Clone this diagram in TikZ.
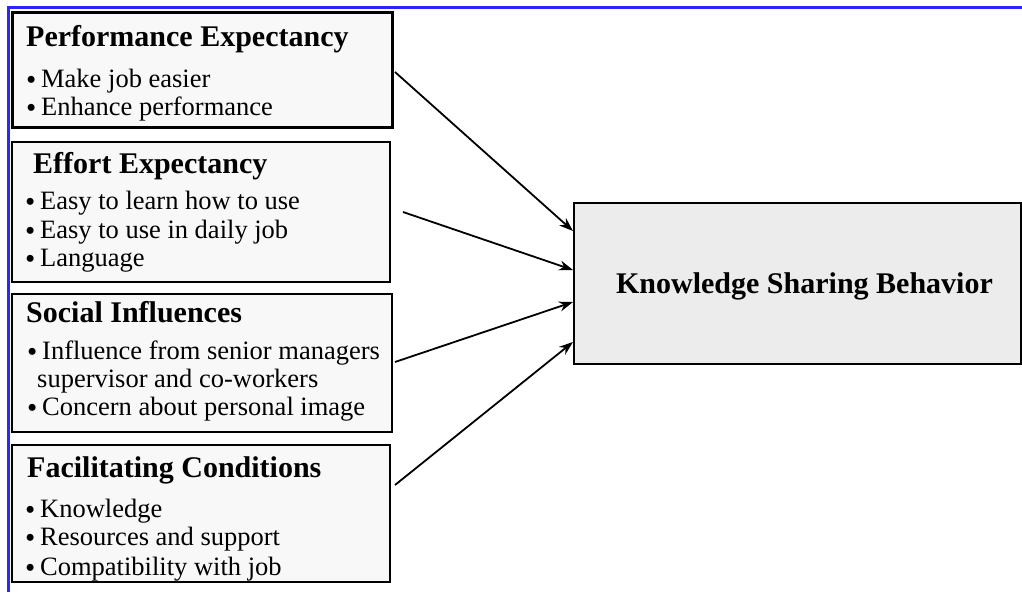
\documentclass[tikz,border=0pt]{standalone}
\usepackage{fontspec}
\setmainfont{Liberation Serif}
\usetikzlibrary{calc,arrows.meta}
\definecolor{frameblue}{RGB}{40,40,250}
\definecolor{boxfill}{RGB}{248,248,248}
\definecolor{ksbfill}{RGB}{236,236,236}
\newcommand\dotmark{\raisebox{-0.1em}{\scalebox{1.1}{•}}\hspace{0.18em}}
\tikzset{
  factor/.style={draw=black, fill=boxfill, inner sep=0pt, outer sep=0pt, anchor=north west},
  heading/.style={anchor=base west, inner sep=0pt, font=\fontsize{30}{36}\selectfont\bfseries},
  item/.style={anchor=base west, inner sep=0pt, font=\fontsize{26.5}{30}\selectfont},
  link/.style={-{Stealth[length=14pt,width=10pt]}, line width=1.8pt},
}
\begin{document}
\begin{tikzpicture}[x=1pt,y=-1pt]
\useasboundingbox (0,0) rectangle (1022,592);
% page frame
\draw[frameblue, line width=2.5pt] (8.5,592) -- (8.5,7.5) -- (1022,7.5);

% performance expectancy
\node[factor, line width=3pt, minimum width=380pt, minimum height=115pt] (pe) at (12,12) {};
\node[heading] (peh) at (26,46) {Performance Expectancy};
\node[item] (pe1) at (26,87) {\dotmark Make job easier};
\node[item] (pe2) at (26,115) {\dotmark Enhance performance};

% effort expectancy
\node[factor, line width=2.5pt, minimum width=378pt, minimum height=140pt] (ee) at (12,142) {};
\node[heading] (eeh) at (33,173) {Effort Expectancy};
\node[item] (ee1) at (25,209) {\dotmark Easy to learn how to use};
\node[item] (ee2) at (25,238) {\dotmark Easy to use in daily job};
\node[item] (ee3) at (25,266) {\dotmark Language};

% social influences
\node[factor, line width=2.5pt, minimum width=380pt, minimum height=138pt] (si) at (12,294) {};
\node[heading] (sih) at (26,322) {Social Influences};
\node[item] (si1) at (27,359) {\dotmark Influence from senior managers};
\node[item] (si2) at (37,387) {supervisor and co-workers};
\node[item] (si3) at (27,415) {\dotmark Concern about personal image};

% facilitating conditions
\node[factor, line width=1.6pt, minimum width=378pt, minimum height=137pt] (fc) at (12,445) {};
\node[heading] (fch) at (27,477) {Facilitating Conditions};
\node[item] (fc1) at (25,517) {\dotmark Knowledge};
\node[item] (fc2) at (25,545) {\dotmark Resources and support};
\node[item] (fc3) at (25,575) {\dotmark Compatibility with job};

% outcome
\node[draw=black, fill=ksbfill, line width=2pt, minimum width=447pt, minimum height=161pt,
      anchor=north west, inner sep=0pt, outer sep=0pt] (ksb) at (574,203) {};
\node[heading, anchor=base] (ksbt) at (804.5,293) {Knowledge Sharing Behavior};

% paths into the outcome
\draw[link] ($(pe.east)+(3,2.5)$) -- ($(ksb.west)+(-1,-52.5)$);
\draw[link] ($(ee.east)+(13,0)$) -- ($(ksb.west)+(-1,-13.5)$);
\draw[link] ($(si.east)+(3,-1)$) -- ($(ksb.west)+(-1,18.5)$);
\draw[link] ($(fc.east)+(5,-28.5)$) -- ($(ksb.west)+(-1,58.5)$);
\end{tikzpicture}
\end{document}
